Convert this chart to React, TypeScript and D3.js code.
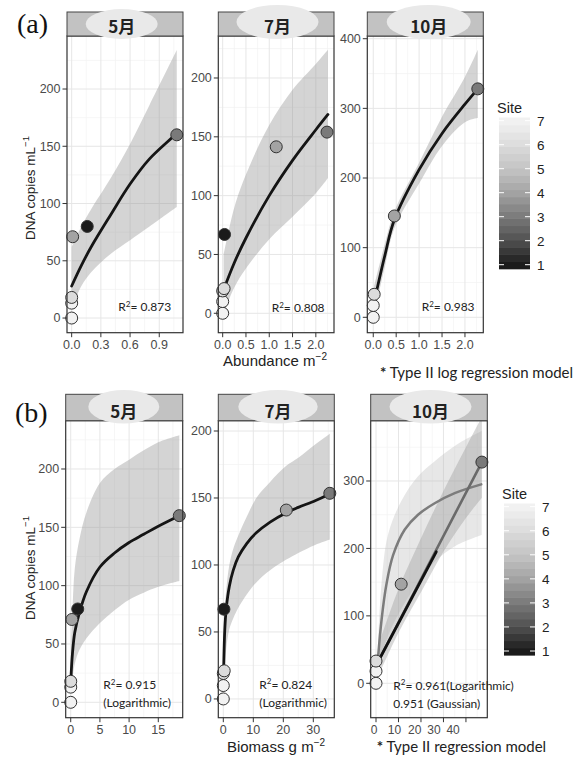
import * as d3 from 'd3';

// colour ramp for Site (1 = dark, 7 = light)
const siteTicks = [1, 2, 3, 4, 5, 6, 7];
const siteGreys = ['#1b1b1b', '#505050', '#7a7a7a', '#a3a3a3', '#c4c4c4', '#dcdcdc', '#f2f2f2'];

const months = ['5月', '7月', '10月'];

// ---------- (a) abundance ----------
const a5X = [0, 0, 0, 0.01, 0.16, 1.08];
const a5Y = [0, 13, 18, 71, 80, 160];
const a5Site = [7, 7, 6, 4, 1, 3];
const a5FitX = [0.0, 0.1, 0.2, 0.4, 0.6, 0.8, 1.08];
const a5FitY = [28, 46, 62, 90, 117, 139, 161];
const a5Lo = [8, 28, 40, 56, 68, 80, 97];
const a5Hi = [62, 80, 95, 122, 152, 186, 234];

const a7X = [0, 0, 0, 0.03, 0.04, 1.15, 2.24];
const a7Y = [0, 10, 19, 21, 67, 141.5, 154];
const a7Site = [7, 7, 6, 6, 1, 4, 3];
const a7FitX = [0.02, 0.25, 0.5, 1.0, 1.5, 2.0, 2.26];
const a7FitY = [20, 43, 64, 100, 130, 156, 169];
const a7Lo = [0, 22, 38, 63, 82, 102, 115];
const a7Hi = [50, 90, 118, 160, 190, 212, 224];

const a10X = [0, 0, 0.02, 0.46, 2.28];
const a10Y = [0, 17, 33, 145.5, 328];
const a10Site = [7, 7, 6, 4, 3];
const a10FitX = [0.02, 0.25, 0.46, 1.0, 1.5, 2.0, 2.28];
const a10FitY = [22, 88, 140, 212, 264, 306, 328];
const a10Lo = [5, 72, 128, 192, 246, 280, 286];
const a10Hi = [45, 105, 152, 222, 288, 345, 384];

// ---------- (b) biomass ----------
const b5X = [0, 0, 0, 0.2, 1.2, 18.6];
const b5Y = [0, 13, 18, 71, 80, 160];
const b5Site = [7, 7, 6, 4, 1, 3];
const b5FitX = [0.05, 0.3, 0.7, 1.5, 2.7, 5, 7.5, 10, 12.5, 15, 18.6];
const b5FitY = [22, 42, 60, 77, 95, 116, 128, 137, 144, 151, 160];
const b5Lo = [8, 20, 33, 45, 55, 68, 79, 88, 94, 99, 104];
const b5Hi = [50, 80, 115, 140, 163, 188, 200, 208, 216, 223, 229];

const b7X = [0, 0, 0, 0.3, 0.2, 21, 35.5];
const b7Y = [0, 10, 19, 21, 67, 141, 153.5];
const b7Site = [7, 7, 6, 6, 1, 4, 3];
const b7FitX = [0.1, 0.5, 1, 2, 3.3, 5, 7.8, 11, 15.6, 21, 25, 30.6, 35.5];
const b7FitY = [20, 52, 68, 84, 96, 106, 116, 124, 132, 139, 143, 148, 153];
const b7Lo = [5, 22, 38, 52, 60, 68, 78, 87, 96, 104, 109, 115, 119];
const b7Hi = [38, 65, 82, 100, 112, 122, 136, 150, 162, 174, 180, 190, 198];

const b10X = [0, 0, 0, 11.2, 47.1];
const b10Y = [0, 18, 33, 147, 328];
const b10Site = [7, 7, 6, 4, 3];
const b10LogX = [0.9, 2.5, 4.6, 7.6, 12.8, 18.7, 26.1, 35, 46.8];
const b10LogY = [38, 95, 146, 190, 228, 250, 267, 282, 295];
const b10LogBandX = [0.9, 2.5, 5.3, 11.2, 18.7, 26, 36, 47];
const b10LogLo = [15, 40, 70, 110, 150, 180, 205, 220];
const b10LogHi = [60, 150, 220, 270, 307, 329, 354, 374];
const b10LinX = [0.9, 47.1];
const b10LinY = [32, 328];
const b10GaussX = [0.9, 26.8];
const b10GaussY = [32, 195];
const b10LinBandX = [0.9, 10, 20, 30, 40, 47.1];
const b10LinLo = [10, 75, 135, 195, 245, 275];
const b10LinHi = [55, 140, 215, 285, 350, 395];

// the 10月 biomass labels sit off their ticks in the original
const b10TickLabelAt = [-0.9, 8.2, 17.2, 25.8, 34.3];
const b10TickLabels = ['0', '10', '20', '30', '40'];

const SANS = '"Liberation Sans", Arial, sans-serif';
const CAL = 'Lato, "Open Sans", sans-serif';
const CJK = '"Noto Sans CJK JP", "Noto Sans CJK SC", sans-serif';

const siteColour = d3.scaleLinear<string>().domain(siteTicks).range(siteGreys).clamp(true);

type Band = { x: number[]; lo: number[]; hi: number[]; fill: string; opacity: number };
type Fit = { x: number[]; y: number[]; stroke: string; width: number };
type Spec = {
  id: string;
  month: string;
  left: number; right: number; stripTop: number; stripH: number; bottom: number;
  xDomain: [number, number]; yDomain: [number, number];
  xTicks: number[]; xFmt: (d: number) => string;
  xLabelAt?: number[]; xLabels?: string[]; xLabelSize?: number;
  yTicks: number[];
  px: number[]; py: number[]; site: number[];
  bands: Band[]; fits: Fit[];
  r2: string; r2b?: string; r2x: number; r2y: number;
  ell: { cx: number; cy: number; rx: number; ry: number };
};

const minorOf = (t: number[]) => {
  const step = t[1] - t[0];
  return [t[0] - step / 2, ...t.map((v) => v + step / 2)];
};

const smooth = d3.curveCatmullRom.alpha(0.5);

function Panel({ s }: { s: Spec }) {
  const top = s.stripTop + s.stripH;
  const x = d3.scaleLinear().domain(s.xDomain).range([s.left, s.right]);
  const y = d3.scaleLinear().domain(s.yDomain).range([s.bottom, top]);
  const inX = (v: number) => v >= s.xDomain[0] && v <= s.xDomain[1];
  const inY = (v: number) => v >= s.yDomain[0] && v <= s.yDomain[1];

  const area = (b: Band) =>
    d3.area<number>()
      .x((_, i) => x(b.x[i]))
      .y0((_, i) => y(b.lo[i]))
      .y1((_, i) => y(b.hi[i]))
      .curve(smooth)(b.x) || '';
  const line = (f: Fit) =>
    d3.line<number>()
      .x((_, i) => x(f.x[i]))
      .y((_, i) => y(f.y[i]))
      .curve(smooth)(f.x) || '';

  const labelAt = s.xLabelAt || s.xTicks;
  const labels = s.xLabels || s.xTicks.map(s.xFmt);

  return (
    <g>
      <defs>
        <clipPath id={`clip-${s.id}`}>
          <rect x={s.left} y={top} width={s.right - s.left} height={s.bottom - top} />
        </clipPath>
      </defs>
      <rect x={s.left} y={top} width={s.right - s.left} height={s.bottom - top} fill="#fff" />
      {/* grid */}
      {minorOf(s.xTicks).filter(inX).map((v) => (
        <line key={`mx${v}`} x1={x(v)} x2={x(v)} y1={top} y2={s.bottom} stroke="#f2f2f2" strokeWidth={0.7} />
      ))}
      {minorOf(s.yTicks).filter(inY).map((v) => (
        <line key={`my${v}`} y1={y(v)} y2={y(v)} x1={s.left} x2={s.right} stroke="#f2f2f2" strokeWidth={0.7} />
      ))}
      {s.xTicks.map((v) => (
        <line key={`gx${v}`} x1={x(v)} x2={x(v)} y1={top} y2={s.bottom} stroke="#e6e6e6" strokeWidth={1} />
      ))}
      {s.yTicks.map((v) => (
        <line key={`gy${v}`} y1={y(v)} y2={y(v)} x1={s.left} x2={s.right} stroke="#e6e6e6" strokeWidth={1} />
      ))}
      <g clipPath={`url(#clip-${s.id})`}>
        {s.bands.map((b, i) => (
          <path key={`b${i}`} d={area(b)} fill={b.fill} fillOpacity={b.opacity} />
        ))}
        {s.fits.map((f, i) => (
          <path key={`f${i}`} d={line(f)} fill="none" stroke={f.stroke} strokeWidth={f.width} strokeLinecap="round" />
        ))}
      </g>
      {s.px.map((v, i) => (
        <circle key={`p${i}`} cx={x(v)} cy={y(s.py[i])} r={6} fill={siteColour(s.site[i])} stroke="#333" strokeWidth={1} />
      ))}
      <rect x={s.left} y={top} width={s.right - s.left} height={s.bottom - top} fill="none" stroke="#333" strokeWidth={1.2} />
      {/* strip */}
      <rect x={s.left} y={s.stripTop} width={s.right - s.left} height={s.stripH} fill="#c2c2c2" stroke="#444" strokeWidth={1} />
      <ellipse cx={s.ell.cx} cy={s.ell.cy} rx={s.ell.rx} ry={s.ell.ry} fill="#e9e9e9" />
      <text x={s.ell.cx} y={s.stripTop + s.stripH - 3} textAnchor="middle" fontFamily={CJK} fontSize={17} fontWeight={700} fill="#222">
        {s.month}
      </text>
      {/* y axis */}
      {s.yTicks.map((v) => (
        <g key={`yt${v}`}>
          <line x1={s.left - 4.5} x2={s.left} y1={y(v)} y2={y(v)} stroke="#333" />
          <text x={s.left - 6.5} y={y(v)} dy="0.35em" textAnchor="end" fontFamily={SANS} fontSize={12.5} fill="#4a4a4a">
            {v}
          </text>
        </g>
      ))}
      {/* x axis */}
      {s.xTicks.map((v) => (
        <line key={`xt${v}`} x1={x(v)} x2={x(v)} y1={s.bottom} y2={s.bottom + 4.5} stroke="#333" />
      ))}
      {labelAt.map((v, i) => (
        <text key={`xl${i}`} x={x(v)} y={s.bottom + 16} textAnchor="middle" fontFamily={SANS} fontSize={s.xLabelSize || 12.5} fill="#4a4a4a">
          {labels[i]}
        </text>
      ))}
      {/* R2 annotation */}
      <text x={s.r2x} y={s.r2y} fontFamily={CAL} fontSize={12} fill="#222">
        R<tspan fontSize={8} dy={-4.5}>2</tspan>
        <tspan dy={4.5}>{'= ' + s.r2}</tspan>
      </text>
      {s.r2b && (
        <text x={s.r2x} y={s.r2y + 18} fontFamily={CAL} fontSize={12} fill="#222">
          {s.r2b}
        </text>
      )}
    </g>
  );
}

function SiteLegend({ barX, y1, y7 }: { barX: number; y1: number; y7: number }) {
  const w = 31;
  const ys = d3.scaleLinear().domain([1, 7]).range([y1, y7]);
  const lo = 0.82;
  const hi = 7.12;
  const nBins = 21;
  const bins = d3.range(nBins).map((i) => lo + ((hi - lo) * i) / nBins);
  const step = (hi - lo) / nBins;
  return (
    <g>
      <text x={barX - 2} y={ys(hi) - 5} fontFamily={SANS} fontSize={14.5} fill="#222">Site</text>
      {bins.map((v, i) => (
        <rect key={i} x={barX} y={ys(v + step) - 0.3} width={w} height={ys(v) - ys(v + step) + 0.6} fill={siteColour(v + step / 2)} />
      ))}
      {siteTicks.map((t) => (
        <g key={t}>
          <line x1={barX} x2={barX + 5} y1={ys(t)} y2={ys(t)} stroke="#fff" strokeWidth={1} />
          <line x1={barX + w - 5} x2={barX + w} y1={ys(t)} y2={ys(t)} stroke="#fff" strokeWidth={1} />
          <text x={barX + w + 7} y={ys(t)} dy="0.36em" fontFamily={SANS} fontSize={13.5} fill="#222">{t}</text>
        </g>
      ))}
    </g>
  );
}

const f1 = d3.format('.1f');
const f0 = d3.format('d');
const bandGrey = '#999';

const rowA = { stripTop: 12, stripH: 24, bottom: 332.7 };
const rowB = { stripTop: 394.3, stripH: 26.4, bottom: 717.7 };

const specs: Spec[] = [
  {
    id: 'a5', month: months[0], left: 67, right: 183, ...rowA,
    xDomain: [-0.048, 1.144], yDomain: [-12.8, 246.3],
    xTicks: [0, 0.3, 0.6, 0.9], xFmt: f1, yTicks: [0, 50, 100, 150, 200],
    px: a5X, py: a5Y, site: a5Site,
    bands: [{ x: a5FitX, lo: a5Lo, hi: a5Hi, fill: bandGrey, opacity: 0.42 }],
    fits: [{ x: a5FitX, y: a5FitY, stroke: '#151515', width: 2.8 }],
    r2: '0.873', r2x: 118.3, r2y: 311,
    ell: { cx: 121.7, cy: 24, rx: 36, ry: 15 },
  },
  {
    id: 'a7', month: months[1], left: 218.3, right: 334, ...rowA,
    xDomain: [-0.094, 2.39], yDomain: [-16.5, 235.7],
    xTicks: [0, 0.5, 1, 1.5, 2], xFmt: f1, yTicks: [0, 50, 100, 150, 200],
    px: a7X, py: a7Y, site: a7Site,
    bands: [{ x: a7FitX, lo: a7Lo, hi: a7Hi, fill: bandGrey, opacity: 0.42 }],
    fits: [{ x: a7FitX, y: a7FitY, stroke: '#151515', width: 2.8 }],
    r2: '0.808', r2x: 271.7, r2y: 312,
    ell: { cx: 277.5, cy: 22, rx: 41, ry: 17 },
  },
  {
    id: 'a10', month: months[2], left: 367.3, right: 483.3, ...rowA,
    xDomain: [-0.13, 2.4], yDomain: [-22.1, 403.9],
    xTicks: [0, 0.5, 1, 1.5, 2], xFmt: f1, yTicks: [0, 100, 200, 300, 400],
    px: a10X, py: a10Y, site: a10Site,
    bands: [{ x: a10FitX, lo: a10Lo, hi: a10Hi, fill: bandGrey, opacity: 0.42 }],
    fits: [{ x: a10FitX, y: a10FitY, stroke: '#151515', width: 2.8 }],
    r2: '0.983', r2x: 421.7, r2y: 311,
    ell: { cx: 428.7, cy: 22, rx: 42, ry: 17 },
  },
  {
    id: 'b5', month: months[0], left: 65.7, right: 182.7, ...rowB,
    xDomain: [-0.86, 19.18], yDomain: [-13.2, 241.4],
    xTicks: [0, 5, 10, 15], xFmt: f0, yTicks: [0, 50, 100, 150, 200],
    px: b5X, py: b5Y, site: b5Site,
    bands: [{ x: b5FitX, lo: b5Lo, hi: b5Hi, fill: bandGrey, opacity: 0.42 }],
    fits: [{ x: b5FitX, y: b5FitY, stroke: '#151515', width: 2.8 }],
    r2: '0.915', r2b: '(Logarithmic)', r2x: 103.3, r2y: 689,
    ell: { cx: 123.8, cy: 406.7, rx: 35.5, ry: 16.7 },
  },
  {
    id: 'b7', month: months[1], left: 218.3, right: 334.3, ...rowB,
    xDomain: [-1.67, 37.0], yDomain: [-14, 207.7],
    xTicks: [0, 10, 20, 30], xFmt: f0, yTicks: [0, 50, 100, 150, 200],
    px: b7X, py: b7Y, site: b7Site,
    bands: [{ x: b7FitX, lo: b7Lo, hi: b7Hi, fill: bandGrey, opacity: 0.42 }],
    fits: [{ x: b7FitX, y: b7FitY, stroke: '#151515', width: 2.8 }],
    r2: '0.824', r2b: '(Logarithmic)', r2x: 259.3, r2y: 688.5,
    ell: { cx: 278, cy: 406.7, rx: 39.7, ry: 16.7 },
  },
  {
    id: 'b10', month: months[2], left: 370.7, right: 487.3, ...rowB,
    xDomain: [-2.36, 49.5], yDomain: [-51, 389.4],
    xTicks: [0, 10, 20, 30, 40], xFmt: f0, xLabelAt: b10TickLabelAt, xLabels: b10TickLabels, xLabelSize: 12,
    yTicks: [0, 100, 200, 300],
    px: b10X, py: b10Y, site: b10Site,
    bands: [
      { x: b10LogBandX, lo: b10LogLo, hi: b10LogHi, fill: '#bbb', opacity: 0.35 },
      { x: b10LinBandX, lo: b10LinLo, hi: b10LinHi, fill: bandGrey, opacity: 0.38 },
    ],
    fits: [
      { x: b10LogX, y: b10LogY, stroke: '#7c7c7c', width: 2.5 },
      { x: b10LinX, y: b10LinY, stroke: '#6a6a6a', width: 2.6 },
      { x: b10GaussX, y: b10GaussY, stroke: '#111', width: 2.8 },
    ],
    r2: '0.961(Logarithmic)', r2b: '0.951 (Gaussian)', r2x: 393.3, r2y: 689.5,
    ell: { cx: 430.5, cy: 406.7, rx: 41, ry: 16.7 },
  },
];

function YTitle({ cy }: { cy: number }) {
  return (
    <text transform={`translate(35,${cy}) rotate(-90)`} textAnchor="middle" fontFamily={SANS} fontSize={13.5} fill="#222">
      DNA copies mL<tspan fontSize={9.5} dy={-6}>−1</tspan>
    </text>
  );
}

export default function App() {
  return (
    <svg width={583} height={758} style={{ position: 'absolute', left: 0, top: 0, background: '#fff' }}>
      <rect width={583} height={758} fill="#fff" />
      <text x={17} y={33} fontFamily='"Liberation Serif", "Times New Roman", serif' fontSize={28} fill="#111">(a)</text>
      <text x={15} y={422} fontFamily='"Liberation Serif", "Times New Roman", serif' fontSize={28} fill="#111">(b)</text>
      {specs.map((s) => <Panel key={s.id} s={s} />)}
      <YTitle cy={188} />
      <YTitle cy={568} />
      <text x={275} y={366} textAnchor="middle" fontFamily={SANS} fontSize={15} fill="#222">
        Abundance m<tspan fontSize={10} dy={-6}>−2</tspan>
      </text>
      <text x={276} y={752} textAnchor="middle" fontFamily={SANS} fontSize={15} fill="#222">
        Biomass g m<tspan fontSize={10} dy={-6}>−2</tspan>
      </text>
      <text x={380} y={378} fontFamily={CAL} fontSize={15} fill="#222">
        <tspan fontWeight={700}>*</tspan> Type II log regression model
      </text>
      <text x={376.7} y={752} fontFamily={CAL} fontSize={15} fill="#222">
        <tspan fontWeight={700}>*</tspan> Type II regression model
      </text>
      <SiteLegend barX={499} y1={264.7} y7={120.7} />
      <SiteLegend barX={504} y1={651} y7={506.7} />
    </svg>
  );
}
